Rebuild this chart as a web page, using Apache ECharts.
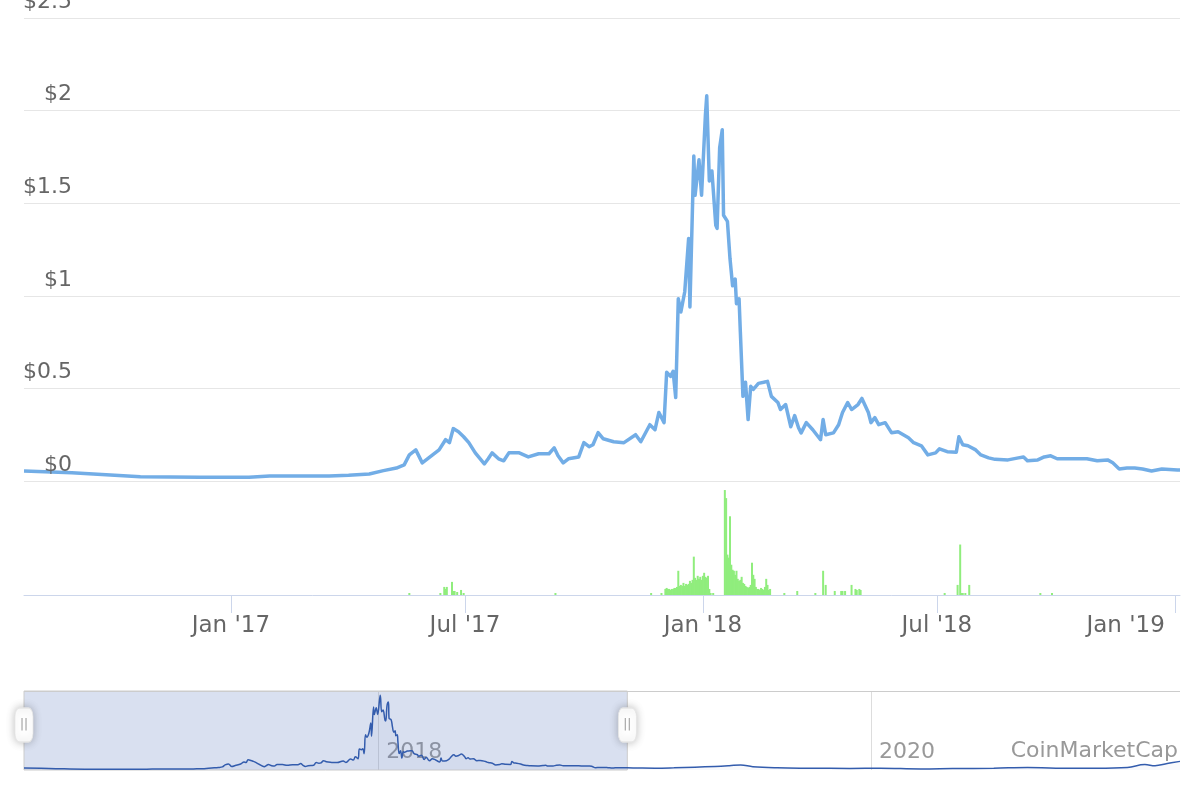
<!DOCTYPE html>
<html><head><meta charset="utf-8">
<script src="https://cdn.jsdelivr.net/npm/echarts@6/dist/echarts.min.js"></script>
<style>html,body{margin:0;padding:0;background:#fff}#c{width:1200px;height:800px}</style>
</head><body><div id="c"></div>
<script>
// ---- price (USD) ----
const priceDates = ['2016-07-25','2016-08-31','2016-10-23','2016-12-08','2017-01-15','2017-01-31','2017-02-23','2017-03-18','2017-04-02','2017-04-18','2017-04-29','2017-05-09','2017-05-15','2017-05-19','2017-05-24','2017-05-29','2017-06-03','2017-06-11','2017-06-16','2017-06-19','2017-06-22','2017-06-26','2017-06-30','2017-07-04','2017-07-09','2017-07-16','2017-07-19','2017-07-22','2017-07-27','2017-07-31','2017-08-04','2017-08-12','2017-08-19','2017-08-27','2017-09-04','2017-09-08','2017-09-11','2017-09-15','2017-09-19','2017-09-27','2017-10-01','2017-10-05','2017-10-08','2017-10-12','2017-10-16','2017-10-24','2017-11-01','2017-11-10','2017-11-14','2017-11-21','2017-11-25','2017-11-28','2017-12-02','2017-12-04','2017-12-07','2017-12-09','2017-12-11','2017-12-13','2017-12-15','2017-12-18','2017-12-21','2017-12-22','2017-12-25','2017-12-26','2017-12-29','2017-12-31','2018-01-03','2018-01-04','2018-01-06','2018-01-08','2018-01-11','2018-01-12','2018-01-14','2018-01-16','2018-01-17','2018-01-20','2018-01-22','2018-01-24','2018-01-26','2018-01-27','2018-01-29','2018-01-30','2018-02-01','2018-02-03','2018-02-05','2018-02-07','2018-02-09','2018-02-13','2018-02-17','2018-02-20','2018-02-23','2018-02-28','2018-03-02','2018-03-06','2018-03-10','2018-03-13','2018-03-16','2018-03-18','2018-03-22','2018-03-27','2018-04-02','2018-04-04','2018-04-06','2018-04-12','2018-04-16','2018-04-19','2018-04-23','2018-04-26','2018-05-01','2018-05-04','2018-05-09','2018-05-11','2018-05-14','2018-05-17','2018-05-22','2018-05-27','2018-06-01','2018-06-09','2018-06-13','2018-06-19','2018-06-24','2018-06-30','2018-07-03','2018-07-09','2018-07-16','2018-07-18','2018-07-21','2018-07-25','2018-07-31','2018-08-04','2018-08-10','2018-08-15','2018-08-25','2018-09-02','2018-09-06','2018-09-09','2018-09-17','2018-09-22','2018-09-27','2018-10-02','2018-10-10','2018-10-18','2018-10-25','2018-11-02','2018-11-10','2018-11-14','2018-11-19','2018-11-25','2018-12-01','2018-12-07','2018-12-14','2018-12-22','2019-01-03','2019-01-05'];
const priceValues = [0.054,0.045,0.023,0.02,0.02,0.027,0.027,0.027,0.031,0.038,0.056,0.07,0.087,0.141,0.168,0.098,0.125,0.168,0.223,0.207,0.283,0.266,0.239,0.207,0.152,0.092,0.12,0.152,0.12,0.109,0.152,0.152,0.13,0.147,0.147,0.179,0.136,0.098,0.12,0.13,0.207,0.185,0.196,0.261,0.228,0.212,0.207,0.25,0.212,0.304,0.277,0.37,0.315,0.587,0.565,0.592,0.451,0.984,0.913,1.022,1.31,0.94,1.755,1.543,1.734,1.543,1.98,2.08,1.62,1.674,1.38,1.364,1.8,1.897,1.435,1.402,1.2,1.054,1.09,0.957,0.984,0.804,0.457,0.533,0.332,0.511,0.495,0.527,0.533,0.538,0.457,0.424,0.386,0.413,0.293,0.353,0.288,0.26,0.315,0.277,0.223,0.332,0.25,0.26,0.304,0.37,0.424,0.386,0.413,0.446,0.37,0.315,0.342,0.304,0.315,0.26,0.266,0.234,0.207,0.19,0.141,0.152,0.174,0.158,0.155,0.239,0.196,0.19,0.168,0.141,0.125,0.117,0.114,0.125,0.13,0.109,0.114,0.13,0.136,0.12,0.12,0.12,0.12,0.109,0.114,0.098,0.065,0.07,0.07,0.065,0.054,0.065,0.06,0.06];

// ---- later price history (navigator only) ----
const laterDates = ['2019-01-20','2019-02-15','2019-03-15','2019-04-15','2019-05-15','2019-06-05','2019-06-22','2019-07-10','2019-08-15','2019-10-01','2019-12-01','2020-01-15','2020-03-15','2020-05-01','2020-07-01','2020-08-20','2020-10-01','2020-12-01','2021-01-15','2021-02-10','2021-02-25','2021-03-15','2021-04-03'];
const laterValues = [0.055,0.05,0.06,0.08,0.1,0.12,0.14,0.09,0.06,0.05,0.045,0.05,0.03,0.04,0.05,0.07,0.05,0.05,0.07,0.15,0.12,0.18,0.24];

// ---- volume (relative units) ----
const volumeDates = ['2017-05-19','2017-06-12','2017-06-15','2017-06-16','2017-06-17','2017-06-21','2017-06-22','2017-06-23','2017-06-25','2017-06-28','2017-06-30','2017-09-09','2017-11-22','2017-11-30','2017-12-03','2017-12-04','2017-12-05','2017-12-06','2017-12-07','2017-12-08','2017-12-09','2017-12-10','2017-12-11','2017-12-12','2017-12-13','2017-12-14','2017-12-15','2017-12-16','2017-12-17','2017-12-18','2017-12-19','2017-12-20','2017-12-21','2017-12-22','2017-12-23','2017-12-24','2017-12-25','2017-12-26','2017-12-27','2017-12-28','2017-12-29','2017-12-30','2017-12-31','2018-01-01','2018-01-02','2018-01-03','2018-01-04','2018-01-05','2018-01-06','2018-01-07','2018-01-09','2018-01-18','2018-01-19','2018-01-20','2018-01-21','2018-01-22','2018-01-23','2018-01-24','2018-01-25','2018-01-26','2018-01-27','2018-01-28','2018-01-29','2018-01-30','2018-01-31','2018-02-01','2018-02-02','2018-02-03','2018-02-04','2018-02-05','2018-02-06','2018-02-07','2018-02-08','2018-02-09','2018-02-10','2018-02-11','2018-02-12','2018-02-13','2018-02-14','2018-02-15','2018-02-16','2018-02-17','2018-02-18','2018-02-19','2018-02-20','2018-02-21','2018-02-22','2018-03-05','2018-03-15','2018-03-29','2018-04-04','2018-04-06','2018-04-13','2018-04-18','2018-04-19','2018-04-21','2018-04-26','2018-04-29','2018-04-30','2018-05-02','2018-05-03','2018-07-07','2018-07-17','2018-07-19','2018-07-20','2018-07-21','2018-07-23','2018-07-26','2018-09-19','2018-09-28'];
const volumeValues = [0.2,0.2,0.8,0.6,0.8,1.3,0.4,0.4,0.3,0.5,0.2,0.2,0.2,0.2,0.6,0.7,0.6,0.6,0.5,0.6,0.6,0.7,0.7,0.8,2.4,0.9,1.0,0.9,1.2,0.9,1.1,1.0,1.1,1.4,1.2,1.5,3.8,1.7,1.5,1.9,1.6,1.8,1.5,1.9,2.2,1.8,1.7,1.9,0.6,0.2,0.2,10.4,9.6,4.0,3.7,7.8,3.0,2.5,2.4,2.0,2.4,1.6,1.4,1.5,1.8,1.2,1.1,0.9,0.8,0.7,0.8,1.0,3.2,2.0,1.6,0.8,0.6,0.6,0.5,0.7,0.6,0.5,0.8,1.6,1.0,0.5,0.6,0.2,0.4,0.2,2.4,1.0,0.4,0.4,0.4,0.4,1.0,0.6,0.5,0.6,0.5,0.2,1.0,5.0,0.2,0.2,0.2,1.0,0.2,0.2];

// ---- axes / ticks ----
const yTickValues = [0, 0.5, 1, 1.5, 2, 2.5];
const yTickLabels = ['$0', '$0.5', '$1', '$1.5', '$2', '$2.5'];
const xTickDates = ['2017-01-01', '2017-07-01', '2018-01-01', '2018-07-01', '2019-01-01'];
const xTickLabels = ["Jan '17", "Jul '17", "Jan '18", "Jul '18", "Jan '19"];
const navTickDates = ['2018-01-01', '2020-01-01'];
const navTickLabels = ['2018', '2020'];
const viewStart = '2016-07-25', viewEnd = '2019-01-05';
const navStart = '2016-07-25', navEnd = '2021-04-03';
const creditText = 'CoinMarketCap';

const P = d => Date.UTC(+d.slice(0, 4), +d.slice(5, 7) - 1, +d.slice(8, 10));
const priceData = priceDates.map((d, i) => [P(d), priceValues[i]]);
const volumeData = volumeDates.map((d, i) => [P(d), volumeValues[i]]);
const navData = priceData.concat(laterDates.map((d, i) => [P(d), laterValues[i]]));
const xTickTs = xTickDates.map(P);
const navTickTs = navTickDates.map(P);
function lookup(v, arr, labels) {
  let best = 0, bd = Infinity;
  arr.forEach((t, i) => { const dd = Math.abs(t - v); if (dd < bd) { bd = dd; best = i; } });
  return labels[best];
}
const NAV_MAX = 2.2;
const FONT = 'DejaVu Sans';

const chart = echarts.init(document.getElementById('c'), null, {renderer: 'canvas'});
chart.setOption({
  animation: false,
  backgroundColor: '#ffffff',
  textStyle: {fontFamily: FONT},
  title: {text: creditText, right: 22, top: 740, padding: 0,
    textStyle: {fontSize: 22, color: '#999999', fontWeight: 'normal', fontFamily: FONT}},
  grid: [
    {left: 24, right: 20, top: 18, height: 463, outerBoundsMode: 'none', containLabel: false},
    {left: 24, right: 20, top: 487, height: 108, outerBoundsMode: 'none', containLabel: false},
    {left: 24, right: 20, top: 691, height: 79, outerBoundsMode: 'none', containLabel: false}
  ],
  xAxis: [
    {type: 'value', gridIndex: 0, min: P(viewStart), max: P(viewEnd), show: false, splitLine: {show: false}},
    {type: 'value', gridIndex: 1, min: P(viewStart), max: P(viewEnd),
      axisLine: {lineStyle: {color: '#ccd6eb', width: 1}},
      axisTick: {customValues: xTickTs, length: 18, lineStyle: {color: '#ccd6eb', width: 1}},
      axisLabel: {customValues: xTickTs, color: '#666666', fontSize: 23, margin: 20, fontFamily: FONT,
        alignMaxLabel: 'right', hideOverlap: false,
        formatter: v => {
          const s = lookup(v, xTickTs, xTickLabels);
          return s === xTickLabels[xTickLabels.length - 1] ? '{last|' + s + '}' : s;
        },
        rich: {last: {fontSize: 23, color: '#666666', fontFamily: FONT, padding: [0, 10, 0, 0]}}},
      splitLine: {show: false}},
    {type: 'value', gridIndex: 2, min: P(navStart), max: P(navEnd),
      axisLine: {show: false},
      axisTick: {customValues: navTickTs, inside: true, length: 79, lineStyle: {color: '#dddddd', width: 1}},
      axisLabel: {customValues: navTickTs, inside: true, color: '#999999', fontSize: 22, fontFamily: FONT,
        margin: 7, align: 'left', verticalAlign: 'bottom', padding: [0, 0, 0, 8],
        formatter: v => lookup(v, navTickTs, navTickLabels)},
      splitLine: {show: false}}
  ],
  yAxis: [
    {type: 'value', gridIndex: 0, min: 0, max: 2.5, interval: 0.5,
      axisLine: {show: false}, axisTick: {show: false}, axisLabel: {show: false},
      splitLine: {lineStyle: {color: '#e6e6e6', width: 1}}},
    {type: 'value', gridIndex: 1, min: 0, max: 10.7, show: false, splitLine: {show: false}},
    {type: 'value', gridIndex: 2, min: 0, max: NAV_MAX, show: false, splitLine: {show: false}},
    {type: 'value', gridIndex: 0, min: 0, max: 2.5, interval: 0.5, position: 'left', offset: 0, z: 10,
      axisLine: {show: false}, axisTick: {show: false}, splitLine: {show: false},
      axisLabel: {inside: true, margin: 48, align: 'right', verticalAlign: 'bottom', padding: [0, 0, 5, 0],
        color: '#666666', fontSize: 22, fontFamily: FONT,
        formatter: v => lookup(v, yTickValues, yTickLabels)}}
  ],
  series: [
    {name: 'Price', type: 'line', xAxisIndex: 0, yAxisIndex: 0, data: priceData,
      showSymbol: false, z: 3,
      lineStyle: {color: '#72ade6', width: 3.5, join: 'round'}, itemStyle: {color: '#72ade6'}},
    {name: 'Volume', type: 'bar', xAxisIndex: 1, yAxisIndex: 1, data: volumeData,
      barWidth: 2, itemStyle: {color: '#90ed7d'}},
    {name: 'Navigator', type: 'line', xAxisIndex: 2, yAxisIndex: 2, data: navData,
      showSymbol: false, z: 3, smooth: 0.4,
      lineStyle: {color: '#335cad', width: 1.5}, itemStyle: {color: '#335cad'},
      areaStyle: {color: 'rgba(51,92,173,0.05)'},
      markArea: {silent: true,
        itemStyle: {color: 'rgba(102,133,194,0.25)', borderColor: '#cccccc', borderWidth: 1},
        data: [[{xAxis: P(viewStart)}, {xAxis: P(viewEnd)}]]},
      markLine: {silent: true, symbol: ['none', 'none'], label: {show: false},
        lineStyle: {color: '#cccccc', width: 1, type: 'solid'},
        data: [{yAxis: NAV_MAX}]},
      markPoint: {silent: true, symbol: 'roundRect', symbolSize: [18, 34],
        itemStyle: {color: '#ffffff', borderColor: '#e6e6e6', borderWidth: 1,
          shadowBlur: 8, shadowColor: 'rgba(0,0,0,0.25)'},
        label: {show: true, position: 'inside', formatter: '||', color: '#999999', fontSize: 12},
        data: [{coord: [P(viewStart), NAV_MAX * 0.57]}, {coord: [P(viewEnd), NAV_MAX * 0.57]}]}}
  ]
});
</script></body></html>
